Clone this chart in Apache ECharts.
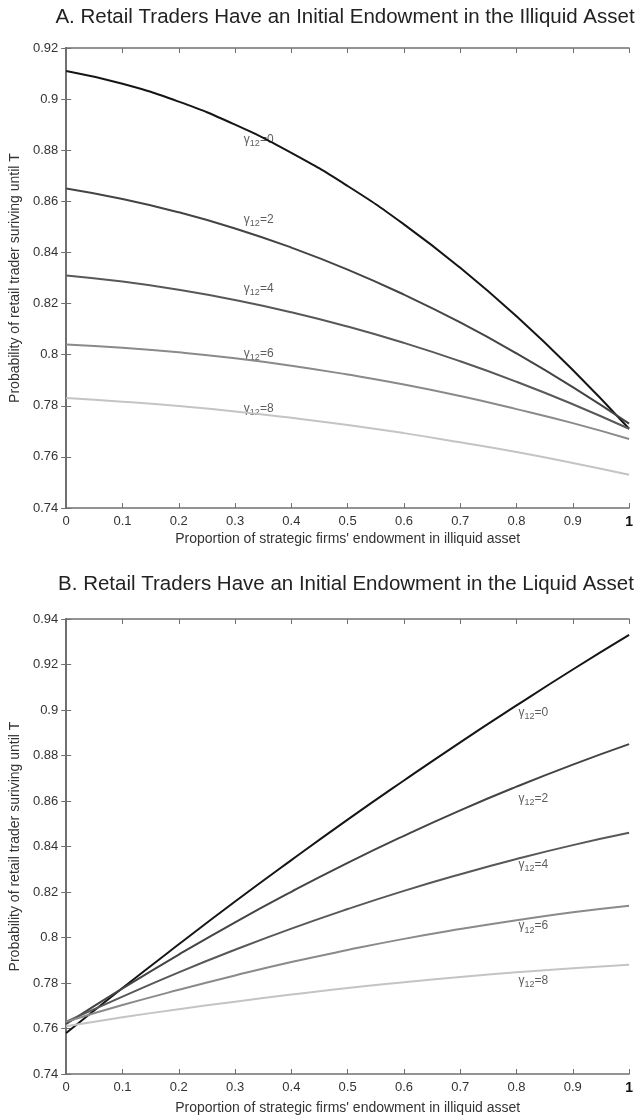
<!DOCTYPE html>
<html><head><meta charset="utf-8">
<script src="https://cdn.jsdelivr.net/npm/echarts@6/dist/echarts.min.js"></script>
<style>html,body{margin:0;padding:0;background:#fff}#c{width:636px;height:1119px}</style>
</head><body><div id="c"></div>
<script>
// ---- data ----
const xValues = [0, 0.1, 0.2, 0.3, 0.4, 0.5, 0.6, 0.7, 0.8, 0.9, 1];
const gammas = [0, 2, 4, 6, 8];
const xTickLabels = ['0','0.1','0.2','0.3','0.4','0.5','0.6','0.7','0.8','0.9','1'];

// Panel A: retail traders endowed with the illiquid asset
const a_g0 = [0.911, 0.906, 0.899, 0.890, 0.879, 0.866, 0.851, 0.834, 0.815, 0.794, 0.771];
const a_g2 = [0.865, 0.8609, 0.8557, 0.8494, 0.8419, 0.8333, 0.8235, 0.8126, 0.8005, 0.7873, 0.773];
const a_g4 = [0.831, 0.8286, 0.8254, 0.8214, 0.8166, 0.811, 0.8046, 0.7974, 0.7894, 0.7806, 0.771];
const a_g6 = [0.804, 0.8027, 0.8009, 0.7986, 0.7957, 0.7922, 0.7883, 0.7838, 0.7787, 0.7732, 0.767];
const a_g8 = [0.783, 0.7816, 0.7799, 0.7778, 0.7753, 0.7725, 0.7693, 0.7657, 0.7619, 0.7576, 0.753];

// Panel B: retail traders endowed with the liquid asset
const b_g0 = [0.758, 0.7778, 0.797, 0.8158, 0.834, 0.8518, 0.869, 0.8858, 0.902, 0.9178, 0.933];
const b_g2 = [0.762, 0.7776, 0.7925, 0.8067, 0.8201, 0.8328, 0.8447, 0.8559, 0.8663, 0.876, 0.885];
const b_g4 = [0.763, 0.774, 0.7847, 0.7946, 0.8039, 0.8125, 0.8205, 0.8278, 0.8345, 0.8406, 0.846];
const b_g6 = [0.763, 0.7703, 0.777, 0.7833, 0.7892, 0.7945, 0.7994, 0.8037, 0.8076, 0.8111, 0.814];
const b_g8 = [0.761, 0.7649, 0.7685, 0.7718, 0.7749, 0.7778, 0.7803, 0.7826, 0.7847, 0.7865, 0.788];

// curve-label anchors (data coordinates)
const a_labelX = [0.342, 0.342, 0.342, 0.342, 0.342];
const a_labelY = [0.884, 0.853, 0.826, 0.8005, 0.779];
const b_labelX = [0.83, 0.83, 0.83, 0.83, 0.83];
const b_labelY = [0.899, 0.861, 0.832, 0.805, 0.781];

const yRangeA = [0.74, 0.92];
const yRangeB = [0.74, 0.94];

// ---- chart ----
const FONT = 'Liberation Sans, Arial, sans-serif';
const lineColors = ['#151515', '#444444', '#585858', '#8a8a8a', '#c4c4c4'];
const axisColor = '#707070';

const chart = echarts.init(document.getElementById('c'), null, {renderer: 'canvas'});

const grids = [
  {left: 62, right: 4, top: 48, height: 460},
  {left: 62, right: 4, top: 619, height: 455}
];

function fmtY(v) { return String(+v.toFixed(2)); }
function fmtX(v) {
  const i = Math.round(v * 10);
  const s = xTickLabels[i];
  return s === '1' ? '{b|1}' : s;
}

const xAxes = [], yAxes = [];
[0, 1].forEach(g => {
  xAxes.push({
    type: 'value', gridIndex: g, min: 0, max: 1, interval: 0.1, position: 'bottom',
    axisLine: {show: true, lineStyle: {color: axisColor, width: 1.5}},
    axisTick: {show: true, inside: true, length: 5, lineStyle: {color: axisColor, width: 1}},
    axisLabel: {color: '#333', fontSize: 13, fontFamily: FONT, margin: 7, formatter: fmtX,
      rich: {b: {fontWeight: 'bold', fontSize: 14, color: '#111', fontFamily: FONT}}},
    splitLine: {show: false},
    name: "Proportion of strategic firms' endowment in illiquid asset",
    nameLocation: 'middle', nameGap: g === 0 ? 24 : 27,
    nameTextStyle: {color: '#333', fontSize: 14, fontFamily: FONT}
  });
  xAxes.push({
    type: 'value', gridIndex: g, min: 0, max: 1, interval: 0.1, position: 'top',
    axisLine: {show: true, lineStyle: {color: axisColor, width: 1.5}},
    axisTick: {show: true, inside: true, length: 5, lineStyle: {color: axisColor, width: 1}},
    axisLabel: {show: false}, splitLine: {show: false}
  });
  const yr = g === 0 ? yRangeA : yRangeB;
  yAxes.push({
    type: 'value', gridIndex: g, min: yr[0], max: yr[1], interval: 0.02, position: 'left',
    axisLine: {show: true, lineStyle: {color: axisColor, width: 2}},
    axisTick: {show: true, inside: true, length: 5, lineStyle: {color: axisColor, width: 1}},
    axisLabel: {color: '#333', fontSize: 13, fontFamily: FONT, margin: 8, formatter: fmtY},
    splitLine: {show: false},
    name: 'Probability of retail trader suriving until T',
    nameLocation: 'middle', nameGap: 40,
    nameTextStyle: {color: '#333', fontSize: 14, fontFamily: FONT}
  });
  yAxes.push({
    type: 'value', gridIndex: g, min: yr[0], max: yr[1], interval: 0.02, position: 'right',
    axisLine: {show: true, lineStyle: {color: axisColor, width: 2}},
    axisTick: {show: true, inside: true, length: 5, lineStyle: {color: axisColor, width: 1}},
    axisLabel: {show: false}, splitLine: {show: false}
  });
});

const seriesA = [a_g0, a_g2, a_g4, a_g6, a_g8];
const seriesB = [b_g0, b_g2, b_g4, b_g6, b_g8];
const series = [];
[seriesA, seriesB].forEach((set, g) => {
  set.forEach((vals, k) => {
    series.push({
      type: 'line', xAxisIndex: g * 2, yAxisIndex: g * 2, smooth: true,
      showSymbol: false, silent: true,
      lineStyle: {color: lineColors[k], width: 2},
      data: xValues.map((x, i) => [x, vals[i]])
    });
  });
  const lx = g === 0 ? a_labelX : b_labelX;
  const ly = g === 0 ? a_labelY : b_labelY;
  series.push({
    type: 'scatter', xAxisIndex: g * 2, yAxisIndex: g * 2, symbolSize: 0, silent: true,
    data: gammas.map((gm, k) => [lx[k], ly[k]]),
    label: {
      show: true, position: 'inside',
      formatter: p => '{g|γ}{s|12}{e|=' + gammas[p.dataIndex] + '}',
      rich: {
        g: {fontSize: 12, color: '#333', fontFamily: FONT, lineHeight: 17, verticalAlign: 'middle'},
        s: {fontSize: 9, color: '#333', fontFamily: FONT, lineHeight: 10, verticalAlign: 'bottom'},
        e: {fontSize: 12, color: '#333', fontFamily: FONT, lineHeight: 17, verticalAlign: 'middle'}
      }
    }
  });
});

chart.setOption({
  backgroundColor: '#fff',
  animation: false,
  title: [
    {text: 'A. Retail Traders Have an Initial Endowment in the Illiquid Asset', left: 340, top: 2, textAlign: 'center',
      textStyle: {fontSize: 20.5, fontWeight: 'normal', color: '#222', fontFamily: FONT}},
    {text: 'B. Retail Traders Have an Initial Endowment in the Liquid Asset', left: 341, top: 569, textAlign: 'center',
      textStyle: {fontSize: 20.5, fontWeight: 'normal', color: '#222', fontFamily: FONT}}
  ],
  grid: grids,
  xAxis: xAxes,
  yAxis: yAxes,
  series: series
});
</script>
</body></html>
